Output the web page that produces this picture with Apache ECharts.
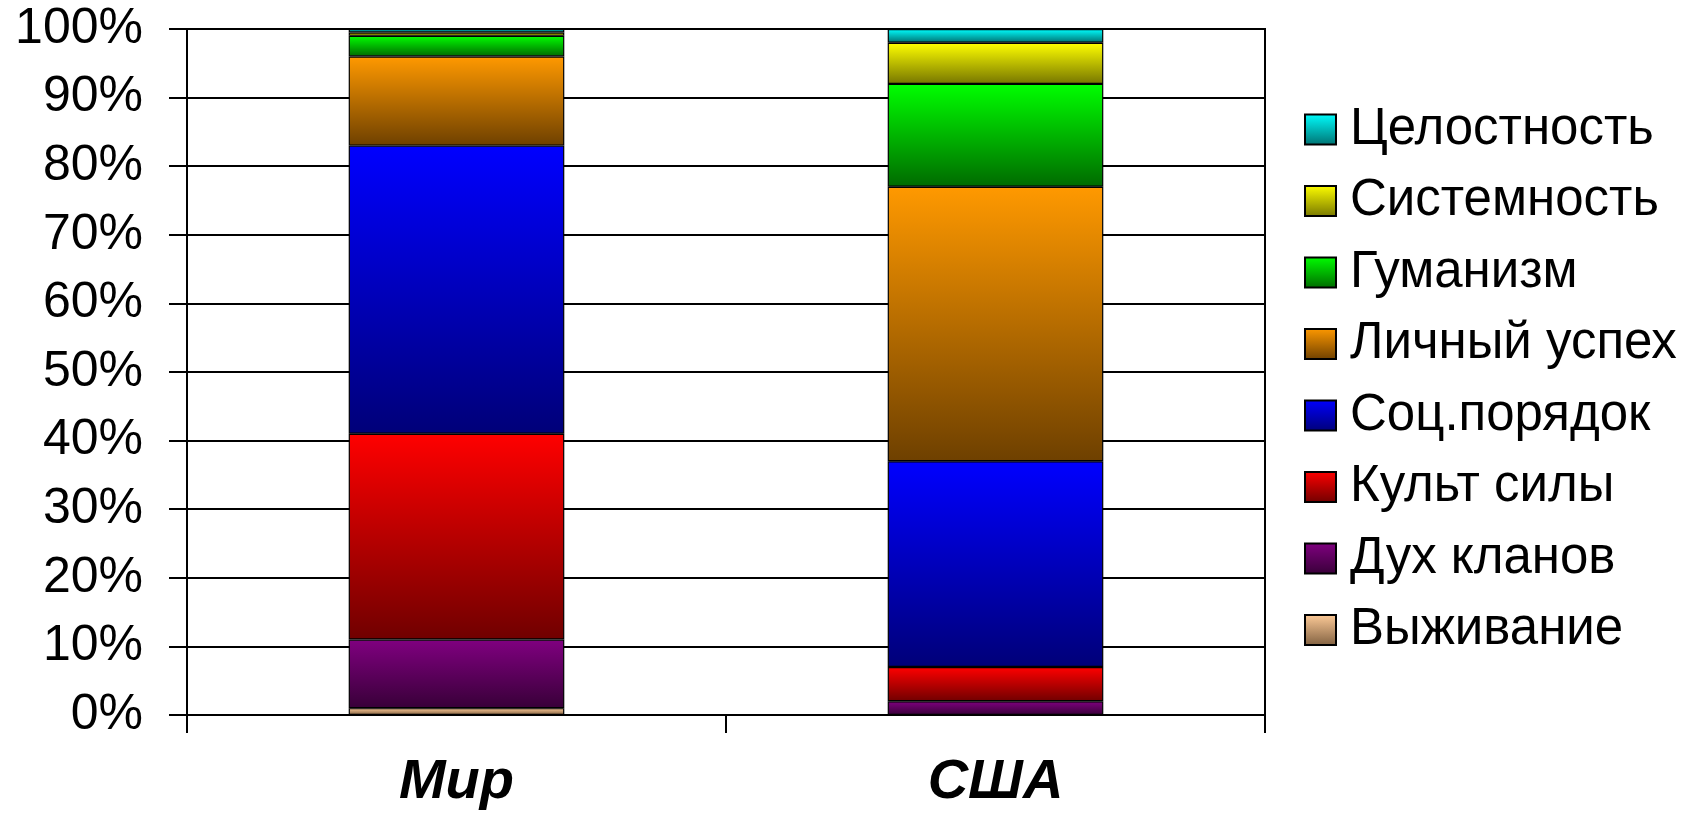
<!DOCTYPE html>
<html>
<head>
<meta charset="utf-8">
<script src="https://cdn.jsdelivr.net/npm/echarts@6/dist/echarts.min.js"></script>
<style>
html,body{margin:0;padding:0;background:#fff;}
#c{width:1686px;height:825px;}
</style>
</head>
<body>
<div id="c"></div>
<script>
const categories = ['Мир', 'США'];
const seriesNames = ['Выживание', 'Дух кланов', 'Культ силы', 'Соц.порядок', 'Личный успех', 'Гуманизм', 'Системность', 'Целостность'];
const survival  = [1, 0];
const clans     = [10, 2];
const force     = [30, 5];
const order     = [42, 30];
const success   = [13, 40];
const humanism  = [3, 15];
const systemic  = [0.5, 6];
const integrity = [0.5, 2];
const yTicks = [0, 10, 20, 30, 40, 50, 60, 70, 80, 90, 100];

const values = [survival, clans, force, order, success, humanism, systemic, integrity];
const gradStops = [
  ['#FFCC99', '#806040'],
  ['#800080', '#380038'],
  ['#FF0000', '#700000'],
  ['#0000FF', '#000078'],
  ['#FF9900', '#6E4000'],
  ['#00FF00', '#006A00'],
  ['#FFFF00', '#767600'],
  ['#00FFFF', '#007070']
];
function grad(i) {
  return new echarts.graphic.LinearGradient(0, 0, 0, 1, [
    {offset: 0, color: gradStops[i][0]},
    {offset: 1, color: gradStops[i][1]}
  ]);
}
const font = '"Liberation Sans", Arial, sans-serif';
const chart = echarts.init(document.getElementById('c'), null, {renderer: 'canvas'});
const series = seriesNames.map((n, i) => ({
  name: n,
  type: 'bar',
  stack: 'total',
  barWidth: '40%',
  data: values[i],
  itemStyle: {color: grad(i), borderColor: '#000', borderWidth: 1.2},
  emphasis: {disabled: true}
}));
chart.setOption({
  animation: false,
  backgroundColor: '#fff',
  grid: {left: 187, right: 421, top: 29, bottom: 110, show: true, borderColor: '#000', borderWidth: 2, backgroundColor: 'transparent'},
  legend: {
    orient: 'vertical',
    left: 1299,
    top: 99,
    data: seriesNames.slice().reverse(),
    itemWidth: 31,
    itemHeight: 30,
    itemGap: 20.5,
    icon: 'rect',
    textStyle: {fontFamily: font, fontSize: 51, color: '#000', lineHeight: 50, padding: [0, 0, 0, 9]},
    selectedMode: false
  },
  xAxis: {
    type: 'category',
    data: categories,
    axisLine: {lineStyle: {color: '#000', width: 2}},
    axisTick: {show: true, length: 18, lineStyle: {color: '#000', width: 2}},
    axisLabel: {fontFamily: font, fontSize: 56, fontWeight: 'bold', fontStyle: 'italic', color: '#000', margin: 40}
  },
  yAxis: {
    type: 'value',
    min: yTicks[0],
    max: yTicks[yTicks.length - 1],
    interval: 10,
    axisLine: {show: true, lineStyle: {color: '#000', width: 2}},
    axisTick: {show: true, length: 18, lineStyle: {color: '#000', width: 2}},
    splitLine: {lineStyle: {color: '#000', width: 2}},
    axisLabel: {fontFamily: font, fontSize: 50, color: '#000', margin: 44, formatter: '{value}%'}
  },
  series: series
});
</script>
</body>
</html>
